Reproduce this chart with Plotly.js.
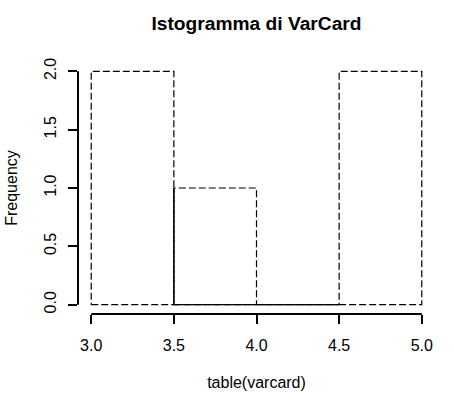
<!DOCTYPE html>
<html>
<head>
<meta charset="utf-8">
<script src="https://cdn.plot.ly/plotly-3.0.1.min.js"></script>
<style>html,body{margin:0;padding:0;background:#fff;}#chart{width:454px;height:413px;}</style>
</head>
<body>
<div id="chart"></div>
<script>
// Data
const binEdges = [3.0, 3.5, 4.0, 4.5, 5.0];
const counts = [2, 1, 0, 2];
const xTicks = [3.0, 3.5, 4.0, 4.5, 5.0];
const xTickLabels = ["3.0", "3.5", "4.0", "4.5", "5.0"];
const yTicks = [0, 0.5, 1.0, 1.5, 2.0];
const yTickLabels = ["0.0", "0.5", "1.0", "1.5", "2.0"];
const titleText = "Istogramma di VarCard";
const xTitle = "table(varcard)";
const yTitle = "Frequency";
// style: bins whose base was drawn over twice (appears solid)
const solidBase = [false, true, true, false];

const FONT = "Liberation Sans, Arial, sans-serif";
const traces = [];

// Dashed outline of each bar
for (let i = 0; i < counts.length; i++) {
  const l = binEdges[i], r = binEdges[i + 1], h = counts[i];
  traces.push({
    type: "scatter", mode: "lines",
    x: [l, r, r, l, l], y: [0, 0, h, h, 0],
    line: {color: "#000", width: 1.2, dash: "7px,3px"},
    hoverinfo: "skip", showlegend: false
  });
}
// Overlapping edges (drawn twice) appear solid
const sx = [], sy = [];
for (let i = 0; i < counts.length - 1; i++) {
  const m = Math.min(counts[i], counts[i + 1]);
  if (m > 0) { sx.push(binEdges[i + 1], binEdges[i + 1], null); sy.push(0, m, null); }
}
for (let i = 0; i < counts.length; i++) {
  if (solidBase[i]) { sx.push(binEdges[i], binEdges[i + 1], null); sy.push(0, 0, null); }
}
traces.push({
  type: "scatter", mode: "lines", x: sx, y: sy,
  line: {color: "#000", width: 1.2},
  hoverinfo: "skip", showlegend: false
});

const xmin = binEdges[0], xmax = binEdges[binEdges.length - 1];
const ymin = 0, ymax = Math.max(...counts);
const xpad = (xmax - xmin) * 0.04, ypad = (ymax - ymin) * 0.04;

const layout = {
  width: 454, height: 413,
  margin: {l: 78, r: 19, t: 62, b: 99},
  paper_bgcolor: "#fff", plot_bgcolor: "#fff",
  font: {family: FONT, size: 16, color: "#000"},
  title: {text: "<b>" + titleText + "</b>", font: {family: FONT, size: 19.2, color: "#000"},
          x: 0.5, xref: "paper", y: 1 - 23 / 413, yref: "container", yanchor: "middle"},
  xaxis: {
    range: [xmin - xpad, xmax + xpad], showgrid: false, zeroline: false, showline: false,
    tickmode: "array", tickvals: xTicks, ticktext: xTickLabels,
    ticks: "outside", ticklen: 9, tickwidth: 2, tickcolor: "#000", ticklabelstandoff: 8,
    tickfont: {family: FONT, size: 16, color: "#000"},
    title: {text: xTitle, font: {family: FONT, size: 16, color: "#000"}, standoff: 23}
  },
  yaxis: {
    range: [ymin - ypad, ymax + ypad], showgrid: false, zeroline: false, showline: false,
    tickmode: "array", tickvals: yTicks, ticktext: yTickLabels, tickangle: -90,
    ticks: "outside", ticklen: 9, tickwidth: 2, tickcolor: "#000", ticklabelstandoff: 6,
    tickfont: {family: FONT, size: 16, color: "#000"},
    title: {text: yTitle, font: {family: FONT, size: 16, color: "#000"}, standoff: 19}
  },
  shapes: [
    {type: "line", xref: "x", yref: "paper", x0: xTicks[0], x1: xTicks[xTicks.length - 1], y0: 0, y1: 0,
     line: {color: "#000", width: 2}},
    {type: "line", xref: "paper", yref: "y", x0: 0, x1: 0, y0: yTicks[0], y1: yTicks[yTicks.length - 1],
     line: {color: "#000", width: 2}}
  ]
};

Plotly.newPlot("chart", traces, layout, {displayModeBar: false, staticPlot: true});
</script>
</body>
</html>
